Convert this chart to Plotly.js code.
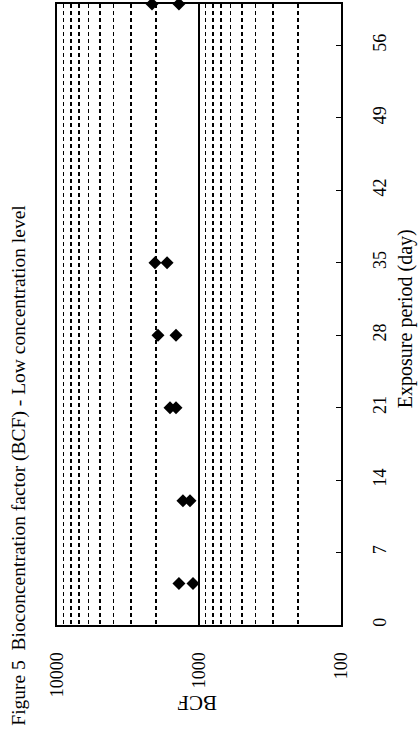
<!DOCTYPE html>
<html>
<head>
<meta charset="utf-8">
<script src="https://cdn.plot.ly/plotly-3.0.1.min.js"></script>
<style>html,body{margin:0;padding:0;background:#fff;}#chart{width:419px;height:738px;}</style>
</head>
<body>
<div id="chart"></div>
<script>
// Exposure period (day) for each measurement
var days = [4, 4, 12, 12, 21, 21, 28, 28, 35, 35, 60, 60];
// Bioconcentration factor values
var bcf = [1384, 1102, 1297, 1157, 1600, 1452, 1945, 1452, 2042, 1679, 2143, 1384];
// Axis ticks
var dayTicks = [0, 7, 14, 21, 28, 35, 42, 49, 56];
var bcfTicks = [100, 1000, 10000];
var bcfTickText = ["100", "1000", "10000"];
var bcfMinor = [200, 300, 400, 500, 600, 700, 800, 900, 2000, 3000, 4000, 5000, 6000, 7000, 8000, 9000];
var titleText = "Figure 5  Bioconcentration factor (BCF) - Low concentration level";
var dayTitle = "Exposure period (day)";
var bcfTitle = "BCF";

var fam = "Liberation Serif, Times New Roman, serif";
var font = {family: fam, size: 18, color: "#000"};

var trace = {
  x: bcf, y: days, type: "scatter", mode: "markers",
  marker: {symbol: "diamond", size: 10, color: "#000"},
  cliponaxis: false, showlegend: false
};

var layout = {
  width: 419, height: 738,
  margin: {l: 57, r: 78, t: 4, b: 113},
  paper_bgcolor: "#fff", plot_bgcolor: "#fff",
  font: font,
  showlegend: false,
  xaxis: {
    type: "log", range: [4, 2],
    tickmode: "array", tickvals: bcfTicks, ticktext: bcfTickText,
    tickangle: -90, ticks: "", ticklabelstandoff: 18,
    showgrid: true, gridcolor: "#000", gridwidth: 1.5,
    showline: true, linecolor: "#000", linewidth: 2, mirror: true,
    zeroline: false,
    minor: {tickmode: "array", tickvals: bcfMinor, showgrid: true, gridcolor: "#000", gridwidth: 1.6, griddash: "4px,3px", ticks: ""},
    tickfont: font
  },
  yaxis: {
    range: [0, 60], side: "right",
    tickmode: "array", tickvals: dayTicks,
    tickangle: -90, ticks: "inside", ticklen: 5, tickcolor: "#000", tickwidth: 1,
    ticklabelstandoff: 21,
    showgrid: false, zeroline: false,
    showline: true, linecolor: "#000", linewidth: 2, mirror: true,
    tickfont: font
  },
  annotations: [
    {text: titleText, xref: "paper", yref: "paper", x: -0.137, y: -0.166,
     xanchor: "center", yanchor: "bottom", textangle: -90, showarrow: false, font: {family: fam, size: 19.5, color: "#000"}},
    {text: dayTitle, xref: "paper", yref: "paper", x: 1.225, y: 0.494,
     xanchor: "center", yanchor: "middle", textangle: -90, showarrow: false, font: {family: fam, size: 20, color: "#000"}},
    {text: bcfTitle, xref: "paper", yref: "paper", x: 0.493, y: -0.1256,
     xanchor: "center", yanchor: "middle", textangle: 180, showarrow: false, font: {family: fam, size: 21, color: "#000"}}
  ]
};

Plotly.newPlot("chart", [trace], layout, {displayModeBar: false, staticPlot: true});
</script>
</body>
</html>
